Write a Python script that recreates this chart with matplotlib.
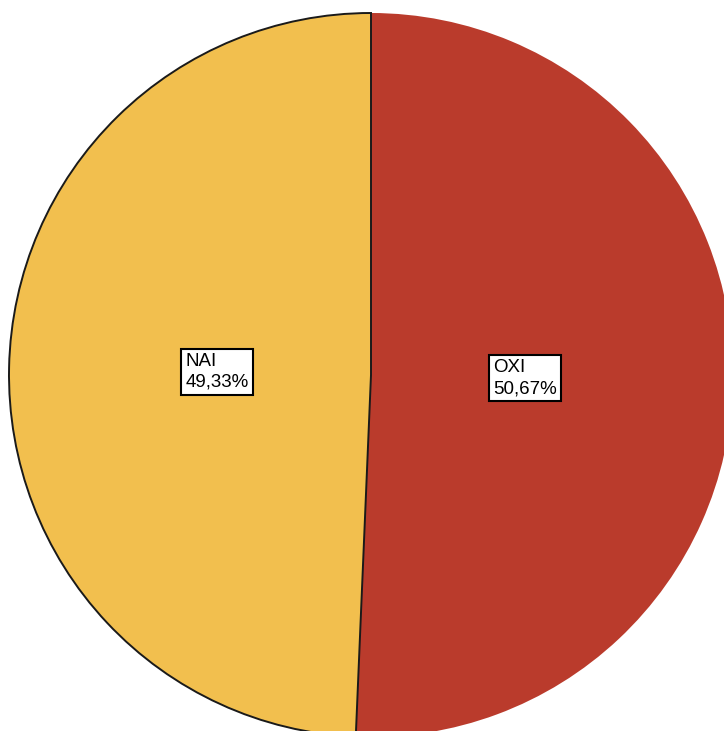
import matplotlib
matplotlib.use("Agg")
import matplotlib.pyplot as plt

categories = ["OXI", "NAI"]
percentages = [50.67, 49.33]
colors = ["#BA3B2C", "#F2BF4E"]

fig = plt.figure(figsize=(7.24, 7.31), dpi=100)
ax = fig.add_axes([0, 0, 1, 1])

labels = [f"{c}\n{v:.2f}%".replace(".", ",") for c, v in zip(categories, percentages)]
wedges, texts = ax.pie(percentages, colors=colors, startangle=90, counterclock=False,
                       center=(371, 356), radius=362, labels=labels, labeldistance=0.425,
                       wedgeprops=dict(linewidth=0))
# outline of the yellow slice (outer edge and divider)
wedges[1].set_edgecolor("#1a1a1a")
wedges[1].set_linewidth(1.4)
wedges[1].set_zorder(3)
wedges[0].set_zorder(2)

for t in texts:
    t.set_ha("center")
    t.set_va("center")
    t.set_multialignment("left")
    t.set_fontfamily("Liberation Sans")
    t.set_fontsize(13.5)
    t.set_linespacing(1.3)
    t.set_zorder(5)
    t.set_bbox(dict(boxstyle="square,pad=0.22", facecolor="white", edgecolor="black", linewidth=1.5))

ax.set_xlim(0, 724)
ax.set_ylim(0, 731)
ax.set_aspect("equal")
ax.axis("off")
fig.savefig("out.png", dpi=100, facecolor="white")
